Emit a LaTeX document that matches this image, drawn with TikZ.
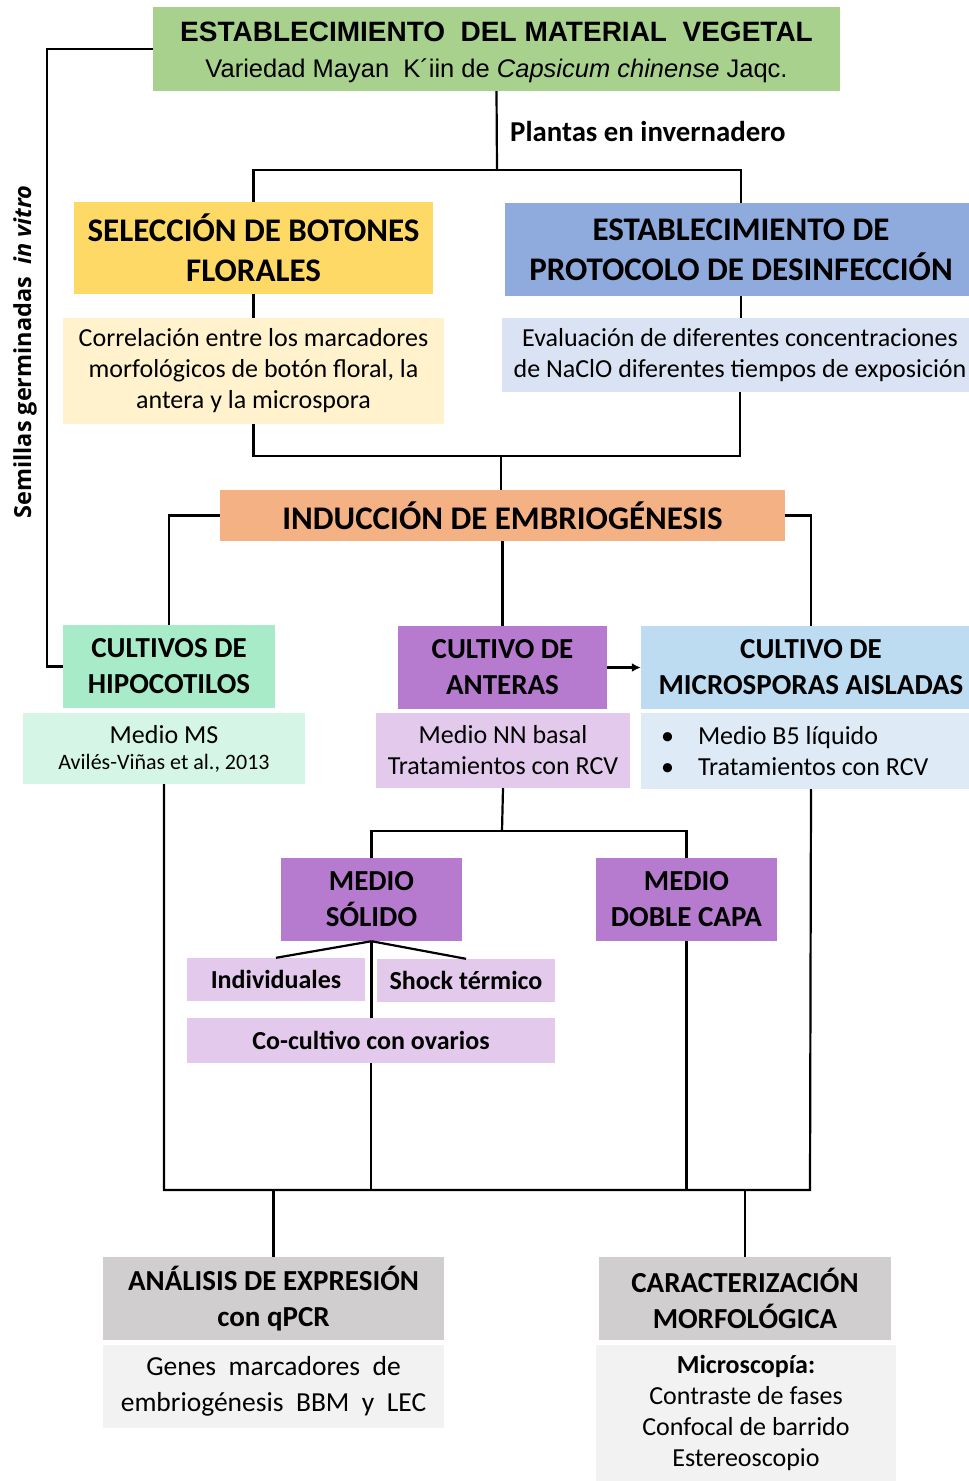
\documentclass[tikz,border=0pt]{standalone}
\usepackage{fontspec}
\setmainfont{Carlito}
\newfontfamily\titlefont{Liberation Sans}
\newfontfamily\sidefont{Open Sans}
\usetikzlibrary{arrows.meta, positioning}
\definecolor{cgreen}{HTML}{A9D18E}
\definecolor{cyellow}{HTML}{FFD966}
\definecolor{cyellowl}{HTML}{FFF2CC}
\definecolor{cblue}{HTML}{8FAADC}
\definecolor{cbluel}{HTML}{DAE3F3}
\definecolor{corange}{HTML}{F4B183}
\definecolor{cmint}{HTML}{A8EBC8}
\definecolor{cmintl}{HTML}{D5F5E6}
\definecolor{cpurple}{HTML}{B67BCF}
\definecolor{cpurplel}{HTML}{E3CAEC}
\definecolor{ccyan}{HTML}{BDDCF2}
\definecolor{ccyanl}{HTML}{DEEAF6}
\definecolor{cgrey}{HTML}{D0CECE}
\definecolor{cgreyl}{HTML}{F2F2F2}

\begin{document}
\begin{tikzpicture}[x=1pt, y=-1pt,
    box/.style={inner sep=0pt, align=center, text=black},
    hdr/.style={box, font=\fontsize{33}{40}\selectfont\bfseries},
    hdrs/.style={box, font=\fontsize{29}{36}\selectfont\bfseries},
    sub/.style={box, font=\fontsize{26}{31}\selectfont},
    subs/.style={box, font=\fontsize{26}{32}\selectfont\bfseries},
    link/.style={line width=2.2pt, black},
]
\useasboundingbox (0,0) rectangle (969,1481);
% top
\node[box, fill=cgreen, minimum width=687, minimum height=84, font=\titlefont\fontsize{25.5}{36}\selectfont] (mat) at (496.5,49)
   {{\bfseries\fontsize{28}{36}\selectfont\rule{0pt}{27pt}ESTABLECIMIENTO\ \ DEL MATERIAL\ \ VEGETAL}\\
    Variedad Mayan\ \ K´iin de \textit{Capsicum chinense} Jaqc.};
\node[box, font=\fontsize{28.8}{34}\selectfont\bfseries, anchor=west] (inv) at (510,131) {Plantas en invernadero};
\node[hdr, fill=cyellow, minimum width=359, minimum height=92] (sel) at (253.5,248)
   {SELECCIÓN DE BOTONES\\ FLORALES};
\node[sub, fill=cyellowl, minimum width=381, minimum height=106] (corr) at (253.5,371)
   {Correlación entre los marcadores\\ morfológicos de botón floral, la\\ antera y la microspora};
\node[hdr, fill=cblue, minimum width=472, minimum height=93] (des) at (741,249.5)
   {ESTABLECIMIENTO DE\\ PROTOCOLO DE DESINFECCIÓN};
\node[sub, fill=cbluel, minimum width=476, minimum height=74] (eva) at (740,355)
   {Evaluación de diferentes concentraciones\\ de NaClO diferentes tiempos de exposición};
% induction
\node[hdr, fill=corange, minimum width=565, minimum height=51] (ind) at (502.5,515.5)
   {INDUCCIÓN DE EMBRIOGÉNESIS};
\node[hdrs, fill=cmint, minimum width=212, minimum height=83] (hip) at (169,666.5)
   {CULTIVOS DE\\ HIPOCOTILOS};
\node[sub, fill=cmintl, minimum width=282, minimum height=71] (hms) at (164,748.5)
   {Medio MS\\[-5pt] {\fontsize{22}{26}\selectfont Avilés-Viñas et al., 2013}};
\node[hdrs, fill=cpurple, minimum width=209, minimum height=83] (ant) at (502.5,667.5)
   {CULTIVO DE\\ ANTERAS};
\node[sub, fill=cpurplel, minimum width=254, minimum height=75] (nn) at (503,750.5)
   {Medio NN basal\\ Tratamientos con RCV};
\node[hdrs, fill=ccyan, minimum width=340, minimum height=83] (mic) at (811,667.5)
   {CULTIVO DE\\ MICROSPORAS AISLADAS};
\node[sub, fill=ccyanl, minimum width=340, minimum height=76, align=flush left, text width=300] (mcl) at (811,751)
   {\makebox[37pt][l]{•}Medio B5 líquido\\ \makebox[37pt][l]{•}Tratamientos con RCV};
% media
\node[hdrs, fill=cpurple, minimum width=181, minimum height=83] (sol) at (371.5,899.5)
   {MEDIO\\ SÓLIDO};
\node[hdrs, fill=cpurple, minimum width=181, minimum height=83] (dob) at (686.5,899.5)
   {MEDIO\\ DOBLE CAPA};
\node[subs, fill=cpurplel, minimum width=178, minimum height=43] (indiv) at (276,979.5) {Individuales};
\node[subs, fill=cpurplel, minimum width=178, minimum height=43] (shk) at (466,980.5) {Shock térmico};
\node[subs, fill=cpurplel, minimum width=368, minimum height=45] (cocu) at (371,1040.5) {Co-cultivo con ovarios};
% analysis
\node[hdrs, fill=cgrey, minimum width=341, minimum height=83] (ana) at (273.5,1298.5)
   {ANÁLISIS DE EXPRESIÓN\\ con qPCR};
\node[box, fill=cgreyl, minimum width=341, minimum height=83, font=\fontsize{27.5}{36}\selectfont] (gen) at (273.5,1386.5)
   {Genes\ \ marcadores\ \ de\\ embriogénesis\ \ BBM\ \ y\ \ LEC};
\node[hdrs, fill=cgrey, minimum width=292, minimum height=83] (car) at (745,1298.5)
   {CARACTERIZACIÓN\\ MORFOLÓGICA};
\node[sub, fill=cgreyl, minimum width=300, minimum height=136] (mcr) at (746,1413)
   {\textbf{Microscopía:}\\ Contraste de fases\\ Confocal de barrido\\ Estereoscopio};
\node[box, rotate=90, font=\sidefont\bfseries\fontsize{23.5}{28}\selectfont] (sem) at (25,352)
   {Semillas germinadas\ \ \textit{in vitro}};
% connectors
\coordinate (j1) at (497,170);
\coordinate (j2) at (501,456);
\coordinate (j3) at (502,831);
\coordinate (j4) at (164,1190);
\coordinate (j5) at (810,1190);
\draw[link] (mat.south) -- (j1);
\draw[link] (sel.north) |- (j1) -| (des.north);
\draw[link] (sel.south) -- (corr.north);
\draw[link] (des.south) -- (des.south |- eva.north);
\draw[link] (corr.south) |- (j2) -| (eva.south);
\draw[link] (j2) -- (j2 |- ind.north);
\draw[link] (mat.west) -- ++(-106,0) |- (hip.west);
\draw[link] (ind.west) -| (hip.north);
\draw[link] (ind.east) -| (mic.north);
\draw[link] (ind.south) -- (ant.north);
\draw[link, -{Latex[length=9pt,width=9pt]}] (ant.east) -- (mic.west);
\draw[link] (nn.south) -- (j3);
\draw[link] (sol.north) |- (j3) -| (dob.north);
\draw[link] (sol.south) -- (indiv.north);
\draw[link] (sol.south) -- (shk.north);
\draw[link] (sol.south) -- (sol.south |- cocu.north);
\draw[link] (cocu.south) -- (cocu.south |- j4);
\draw[link] (dob.south) -- (dob.south |- j4);
\draw[link] (hms.south) -- (j4) -- (j5) -- (mcl.south);
\draw[link] (ana.north) -- (ana.north |- j4);
\draw[link] (car.north) -- (car.north |- j4);
\end{tikzpicture}
\end{document}
